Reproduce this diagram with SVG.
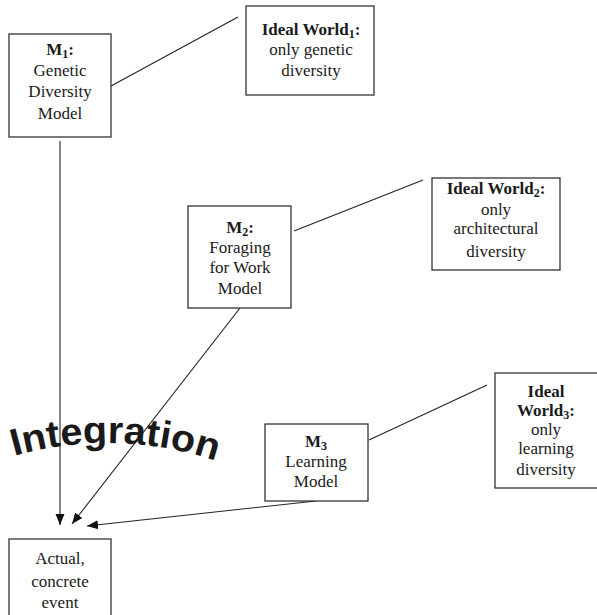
<svg xmlns="http://www.w3.org/2000/svg" width="597" height="615" viewBox="0 0 597 615">
<style>
.box{fill:#fff;stroke:#333;stroke-width:1.3}
text.t{font-family:'Liberation Serif','Times New Roman',serif;font-size:17px;fill:#1a1a1a;text-anchor:middle}
.b{font-weight:bold}
.sub{font-size:12px}
.ln{stroke:#222;stroke-width:1.1;fill:none}
.integ{font-family:'Liberation Sans',Arial,sans-serif;font-weight:bold;font-size:38px;fill:#1a1a1a}
</style>
<defs>
<marker id="ah" markerUnits="userSpaceOnUse" markerWidth="12" markerHeight="12" viewBox="0 0 12 12" refX="11" refY="6" orient="auto">
<path d="M0,1.5 L11,6 L0,10.5 Z" fill="#111"/>
</marker>
<path id="arc" d="M14,456 A340,340 0 0,1 222,463"/>
</defs>
<g id="connectors">
<line class="ln" x1="111" y1="86" x2="238" y2="17"/>
<line class="ln" x1="294" y1="231" x2="423" y2="180"/>
<line class="ln" x1="369" y1="440" x2="487" y2="385"/>
<line class="ln" x1="60" y1="141" x2="60" y2="525" marker-end="url(#ah)"/>
<line class="ln" x1="240" y1="308" x2="72" y2="524" marker-end="url(#ah)"/>
<line class="ln" x1="316" y1="501" x2="87" y2="526" marker-end="url(#ah)"/>
</g>
<g id="m1">
<rect class="box" x="9" y="34" width="102" height="103"/>
<text class="t b" x="60" y="55">M<tspan class="sub" dy="3">1</tspan><tspan dy="-3">:</tspan></text>
<text class="t" x="60" y="76">Genetic</text>
<text class="t" x="60" y="97">Diversity</text>
<text class="t" x="60" y="119">Model</text>
</g>
<g id="iw1">
<rect class="box" x="246" y="6" width="128" height="89"/>
<text class="t b" x="311" y="35">Ideal World<tspan class="sub" dy="3">1</tspan><tspan dy="-3">:</tspan></text>
<text class="t" x="311" y="55">only genetic</text>
<text class="t" x="311" y="76">diversity</text>
</g>
<g id="m2">
<rect class="box" x="188" y="206" width="103" height="102"/>
<text class="t b" x="240" y="233">M<tspan class="sub" dy="3">2</tspan><tspan dy="-3">:</tspan></text>
<text class="t" x="240" y="253">Foraging</text>
<text class="t" x="240" y="273">for Work</text>
<text class="t" x="240" y="294">Model</text>
</g>
<g id="iw2">
<rect class="box" x="432" y="178" width="128" height="92"/>
<text class="t b" x="496" y="194">Ideal World<tspan class="sub" dy="3">2</tspan><tspan dy="-3">:</tspan></text>
<text class="t" x="496" y="215">only</text>
<text class="t" x="496" y="234">architectural</text>
<text class="t" x="496" y="257">diversity</text>
</g>
<g id="m3">
<rect class="box" x="265" y="424" width="103" height="77"/>
<text class="t b" x="316" y="447">M<tspan class="sub" dy="3">3</tspan></text>
<text class="t" x="316" y="467">Learning</text>
<text class="t" x="316" y="487">Model</text>
</g>
<g id="iw3">
<rect class="box" x="495" y="373" width="103" height="115"/>
<text class="t b" x="546" y="397">Ideal</text>
<text class="t b" x="546" y="416">World<tspan class="sub" dy="3">3</tspan><tspan dy="-3">:</tspan></text>
<text class="t" x="546" y="435">only</text>
<text class="t" x="546" y="454">learning</text>
<text class="t" x="546" y="475">diversity</text>
</g>
<g id="actual">
<rect class="box" x="9" y="539" width="102" height="90"/>
<text class="t" x="60" y="564">Actual,</text>
<text class="t" x="60" y="587">concrete</text>
<text class="t" x="60" y="608">event</text>
</g>
<g id="integration">
<text class="integ"><textPath href="#arc" textLength="205" lengthAdjust="spacingAndGlyphs">Integration</textPath></text>
</g>
</svg>
